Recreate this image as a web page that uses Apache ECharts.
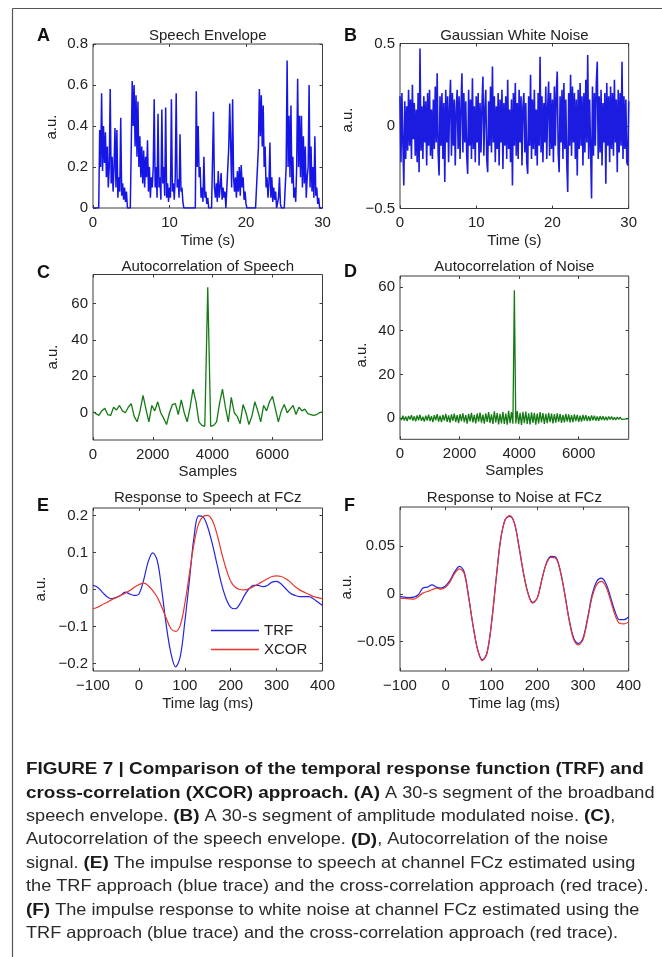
<!DOCTYPE html>
<html>
<head>
<meta charset="utf-8">
<script src="https://cdn.jsdelivr.net/npm/echarts@6.0.0/dist/echarts.min.js"></script>
<style>
  html, body { margin: 0; padding: 0; background: #fff; }
  #chart { width: 662px; height: 957px; }
</style>
</head>
<body>
<div id="chart"></div>
<script>
// ---- data ----

// A: speech envelope, one value every 0.125 s over 0..30 s
const aEnvelope = [
  0, 0, 0, 0, 0, 0, 0,
  0.38, 0.2, 0.56, 0.18, 0.4, 0.22, 0.37, 0.15, 0.3, 0.1, 0.2, 0.58, 0.12, 0.25, 0.08, 0.2, 0.39, 0.1, 0.38,
  0.05, 0.15, 0.08, 0.44, 0.06, 0.12, 0.04, 0.1, 0.03, 0.08,
  0, 0, 0, 0,
  0.3, 0.62, 0.4, 0.6, 0.3, 0.55, 0.25, 0.52, 0.2, 0.35, 0.15, 0.3, 0.12, 0.28, 0.1, 0.25, 0.15, 0.33, 0.08, 0.2,
  0.05, 0.15, 0.1, 0.2, 0.53, 0.1, 0.2, 0.05, 0.46, 0.1, 0.15, 0.04, 0.48, 0.12, 0.2, 0.06, 0.49, 0.05, 0.12, 0.03,
  0.1, 0.05, 0.53, 0.08, 0.12, 0.04, 0.15, 0.56, 0.1, 0.14, 0.05, 0.36, 0.08, 0.1, 0.03,
  0, 0, 0, 0, 0, 0, 0, 0, 0, 0, 0, 0, 0,
  0.57, 0.2, 0.4, 0.15, 0.2, 0.05, 0.1, 0.03, 0.25, 0.05, 0.08, 0.02, 0.05,
  0, 0, 0, 0, 0,
  0.47, 0.1, 0.05, 0.12, 0.03, 0.18, 0.05, 0.1, 0.17, 0.04, 0.1, 0.05, 0.08,
  0, 0, 0,
  0.3, 0.51, 0.3, 0.1, 0.53, 0.15, 0.08, 0.15, 0.05, 0.18, 0.08, 0.2, 0.06, 0.21, 0.1, 0.15, 0.04, 0.08, 0.02,
  0, 0, 0, 0, 0, 0, 0, 0, 0, 0, 0, 0,
  0.3, 0.58, 0.35, 0.55, 0.3, 0.5, 0.2, 0.3, 0.1, 0.15, 0.05, 0.12, 0.32, 0.05, 0.15, 0.03, 0.1, 0.04, 0.08,
  0, 0, 0.05, 0.15, 0.02,
  0, 0, 0, 0, 0,
  0.2, 0.72, 0.2, 0.45, 0.15, 0.5, 0.12, 0.25, 0.05, 0.1, 0.03, 0.2, 0.63, 0.2, 0.45, 0.15, 0.45, 0.1, 0.35, 0.12,
  0.3, 0.05, 0.15, 0.2, 0.6, 0.1, 0.3, 0.08, 0.2, 0.05, 0.35, 0.06, 0.1, 0.02, 0.05,
  0, 0, 0, 0
];

// B: gaussian white noise, one value every 0.125 s over 0..30 s
const bNoise = [
  0.18, -0.22, 0.2, -0.1, -0.36, 0.15, -0.2, 0.12, -0.15, 0.22,
  -0.12, 0.16, -0.2, 0.25, -0.08, 0.14, -0.18, 0.1, -0.22, 0.2,
  -0.28, 0.47, -0.15, 0.12, -0.2, 0.18, -0.1, 0.15, -0.24, 0.2,
  -0.12, 0.22, -0.18, 0.1, -0.2, 0.16, -0.14, 0.24, -0.1, 0.32,
  -0.16, -0.3, 0.18, -0.12, 0.2, -0.2, 0.14, -0.34, 0.22, -0.1,
  0.18, -0.22, 0.12, 0.28, -0.18, 0.2, -0.12, 0.16, -0.24, 0.1,
  0.22, -0.14, 0.18, -0.2, 0.12, 0.32, -0.16, 0.2, -0.1, 0.15,
  -0.18, -0.29, 0.22, -0.12, 0.16, -0.2, 0.29, -0.14, 0.12, -0.22,
  0.18, -0.1, 0.2, -0.24, 0.14, -0.16, 0.12, 0.3, -0.18, 0.1,
  0.22, -0.2, -0.28, 0.15, -0.12, 0.24, -0.16, 0.36, -0.1, 0.18,
  -0.22, 0.12, -0.14, 0.2, -0.24, 0.16, -0.1, 0.22, -0.26, 0.14,
  -0.12, 0.18, -0.2, 0.28, -0.14, 0.1, -0.22, 0.16, -0.36, 0.2,
  -0.12, 0.26, -0.18, 0.14, -0.2, 0.22, -0.1, 0.18, -0.24, 0.12,
  0.2, -0.16, 0.14, -0.22, -0.29, 0.18, -0.12, 0.31, -0.2, 0.16,
  -0.14, 0.22, -0.18, 0.1, -0.24, 0.2, -0.12, 0.42, -0.16, 0.18,
  -0.22, 0.14, -0.1, 0.24, -0.2, 0.12, 0.27, -0.18, 0.2, -0.14,
  0.16, -0.22, 0.24, -0.12, 0.2, 0.33, -0.16, -0.28, 0.18, -0.1,
  0.22, -0.2, 0.26, -0.14, 0.16, -0.22, -0.4, 0.2, -0.12, 0.31,
  -0.18, 0.24, -0.1, 0.2, -0.2, 0.16, -0.3, 0.22, -0.14, 0.26,
  -0.12, 0.18, -0.24, 0.2, -0.16, 0.28, -0.1, 0.43, -0.2, 0.16,
  -0.14, -0.44, 0.24, -0.18, 0.2, -0.12, 0.26, 0.39, -0.2, 0.18,
  -0.16, 0.22, -0.24, 0.14, -0.1, 0.2, -0.35, 0.26, -0.12, 0.18,
  -0.22, 0.24, -0.14, 0.2, -0.18, 0.28, -0.1, 0.16, -0.28, 0.22,
  -0.16, 0.2, -0.12, 0.39, -0.2, 0.18, -0.14, 0.16, -0.22, -0.24,
  0.15
];

// C: autocorrelation of speech, evenly spread over 0..7680 samples
const cAutocorr = [
  0.5, -0.5, -1.5, 1, 2.5, -1, -1.5, 3, 1.5, 4,
  1, 0, 3, 5, -2, -5, 1, 9.5, 2, -5,
  4, 1, 6, 0, -3, -6.5, 0, 4.5, 5, -1,
  7, 0, -5, 3, 13, 6, -5, -7, -7.5, 69,
  -7.5, -7, -5, 5, 13, 3, -5, 8.5, 0, -2,
  -6, 4.5, 0, -6.5, -2, 6, 1, -5, 4, 1,
  6, 9, 2, -5, 1, 4.5, 0, 2, 4, -1,
  3, 1, 2, -0.5, -1, -1.5, -1, 0, 0.5
];

// D: autocorrelation of noise, evenly spread over 0..7680 samples
const dAutocorr = [
  0.3, -0.8, 1.2, -1.0, 0.8, -1.3, 1.1, -0.6, 1.4, -1.1,
  0.9, -1.4, 1.3, -0.9, 1.6, -1.2, 0.7, -1.5, 1.2, -1.0,
  1.7, -1.3, 1.0, -1.8, 1.4, -0.9, 1.9, -1.5, 1.2, -1.7,
  1.5, -1.1, 2.0, -1.6, 1.3, -2.0, 1.8, -1.2, 2.1, -1.7,
  1.4, -2.2, 1.9, -1.3, 2.3, -1.8, 1.5, -2.4, 2.0, -1.4,
  2.5, -1.9, 1.6, -2.3, 2.2, -1.5, 2.6, -2.0, 1.7, -2.5,
  2.3, -1.6, 2.8, -2.1, 1.8, -2.6, 3.2, -1.9, 2.4, -2.8,
  2.0, -2.3, 3.0, -2.6, 2.2, -2.9, 3.4, -2.2, 2.8, -2.5,
  58.5,
  -2.4, 3.3, -2.7, 2.5, -3.0, 2.9, -2.2, 3.1, -2.6, 2.3,
  -2.8, 2.7, -2.1, 2.5, -2.9, 2.2, -2.4, 2.8, -1.9, 2.4,
  -2.6, 2.0, -2.2, 2.5, -1.8, 2.1, -2.3, 1.9, -2.0, 2.2,
  -1.7, 2.0, -2.1, 1.6, -1.9, 2.0, -1.5, 1.8, -1.9, 1.4,
  -1.7, 1.8, -1.3, 1.6, -1.6, 1.2, -1.5, 1.5, -1.1, 1.4,
  -1.3, 1.0, -1.3, 1.3, -0.9, 1.2, -1.1, 0.8, -1.1, 1.0,
  -0.8, 0.9, -0.9, 0.7, -0.9, 0.8, -0.6, 0.8, -0.7, 0.5,
  -0.7, 0.6, -0.5, 0.6, -0.5, 0.4, -0.4, 0.4, -0.3, 0.2
];

// E / F: responses at FCz, time lag -100..400 ms every 10 ms
const lagMs = [
  -100, -90, -80, -70, -60, -50, -40, -30, -20, -10,
  0, 10, 20, 30, 40, 50, 60, 70, 80, 90,
  100, 110, 120, 130, 140, 150, 160, 170, 180, 190,
  200, 210, 220, 230, 240, 250, 260, 270, 280, 290,
  300, 310, 320, 330, 340, 350, 360, 370, 380, 390, 400
];
const eTRF = [
  0.011, 0.006, -0.007, -0.019, -0.025, -0.022, -0.016, -0.007, -0.012, -0.016,
  -0.012, 0.024, 0.074, 0.099, 0.078, -0.003, -0.1, -0.173, -0.209, -0.182,
  -0.088, 0.024, 0.141, 0.199, 0.196, 0.168, 0.123, 0.069, 0.015, -0.025,
  -0.048, -0.052, -0.039, -0.016, 0.002, 0.011, 0.011, 0.008, 0.011, 0.02,
  0.022, 0.015, 0.002, -0.01, -0.016, -0.019, -0.019, -0.019, -0.025, -0.034,
  -0.043
];
const eXCOR = [
  -0.052, -0.048, -0.041, -0.035, -0.028, -0.022, -0.016, -0.01, -0.003, 0.006,
  0.013, 0.017, 0.011, -0.003, -0.021, -0.048, -0.079, -0.106, -0.113, -0.097,
  -0.039, 0.042, 0.123, 0.177, 0.197, 0.2, 0.186, 0.15, 0.1, 0.056,
  0.022, 0.006, 0, -0.001, 0.002, 0.008, 0.015, 0.022, 0.029, 0.035,
  0.037, 0.035, 0.029, 0.02, 0.008, -0.001, -0.007, -0.013, -0.019, -0.022,
  -0.025
];
const fTRF = [
  -0.003, -0.0035, -0.004, -0.0035, -0.001, 0.006, 0.007, 0.0094, 0.007, 0.006,
  0.0084, 0.0146, 0.0233, 0.0286, 0.0233, -0.003, -0.034, -0.0585, -0.069, -0.062,
  -0.0307, 0.0146, 0.0564, 0.0774, 0.0808, 0.0739, 0.0495, 0.0216, 0.0007, -0.009,
  -0.0045, 0.0146, 0.032, 0.039, 0.0383, 0.025, 0.0007, -0.027, -0.0463, -0.0516,
  -0.0463, -0.0254, -0.001, 0.0129, 0.0164, 0.0111, -0.003, -0.0185, -0.027, -0.027,
  -0.0237
];
const fXCOR = [
  -0.0045, -0.0049, -0.0052, -0.0056, -0.003, 0.0007, 0.0024, 0.0042, 0.0059, 0.0049,
  0.007, 0.0129, 0.0216, 0.026, 0.0216, -0.0035, -0.034, -0.059, -0.0697, -0.062,
  -0.0307, 0.0146, 0.0564, 0.0774, 0.0815, 0.0739, 0.0495, 0.0216, 0, -0.0098,
  -0.0045, 0.0146, 0.0314, 0.038, 0.0373, 0.0244, 0, -0.0282, -0.048, -0.0533,
  -0.048, -0.0272, -0.0035, 0.0094, 0.0129, 0.0077, -0.0063, -0.022, -0.0307, -0.0314,
  -0.029
];

// tick labels
const timeTicks = [0, 10, 20, 30];
const envTicks = [0, 0.2, 0.4, 0.6, 0.8];
const noiseTicks = [-0.5, 0, 0.5];
const sampleTicks = [0, 2000, 4000, 6000];
const corrTicks = [0, 20, 40, 60];
const lagTicks = [-100, 0, 100, 200, 300, 400];
const eTicks = [-0.2, -0.1, 0, 0.1, 0.2];
const fTicks = [-0.05, 0, 0.05];

const seriesNames = ['TRF', 'XCOR'];

// ---- layout ----
const font = '"Liberation Sans", Arial, Helvetica, sans-serif';
const ink = '#222';
const boxColor = '#3c3c3c';

const panels = [
  { letter: 'A', title: 'Speech Envelope', xName: 'Time (s)', box: [93, 44, 229.5, 164],
    x: [0, 30], y: [0, 0.8], xt: timeTicks, yt: envTicks, titleY: 36, xNameY: 241, ylX: 52, ylY: 127 },
  { letter: 'B', title: 'Gaussian White Noise', xName: 'Time (s)', box: [400, 43.5, 228.7, 165],
    x: [0, 30], y: [-0.5, 0.5], xt: timeTicks, yt: noiseTicks, titleY: 36, xNameY: 241, ylX: 348, ylY: 120 },
  { letter: 'C', title: 'Autocorrelation of Speech', xName: 'Samples', box: [93, 274.5, 229.5, 165.5],
    x: [0, 7680], y: [-15, 76], xt: sampleTicks, yt: corrTicks, titleY: 266.5, xNameY: 472, ylX: 53, ylY: 357 },
  { letter: 'D', title: 'Autocorrelation of Noise', xName: 'Samples', box: [400, 276, 228.7, 163.3],
    x: [0, 7680], y: [-9.6, 65], xt: sampleTicks, yt: corrTicks, titleY: 266.5, xNameY: 471, ylX: 362, ylY: 355 },
  { letter: 'E', title: 'Response to Speech at FCz', xName: 'Time lag (ms)', box: [93, 508, 229.5, 163],
    x: [-100, 400], y: [-0.22, 0.22], xt: lagTicks, yt: eTicks, titleY: 498, xNameY: 704, ylX: 41, ylY: 589 },
  { letter: 'F', title: 'Response to Noise at FCz', xName: 'Time lag (ms)', box: [400, 507, 228.7, 164],
    x: [-100, 400], y: [-0.0805, 0.0905], xt: lagTicks, yt: fTicks, titleY: 498, xNameY: 704, ylX: 347, ylY: 587 }
];
const letterPos = [[37, 36], [344, 36], [37, 273.5], [344, 272], [37, 506.5], [344, 506.5]];

const fmt = v => String(v).replace('-', '\u2212');

const grids = [];
const xAxes = [];
const yAxes = [];
const graphics = [];

panels.forEach((p, i) => {
  const [left, top, width, height] = p.box;
  grids.push({ left, top, width, height, show: true, borderColor: boxColor, borderWidth: 1, backgroundColor: 'transparent' });

  const tick = vals => ({ inside: true, length: 3, customValues: vals, lineStyle: { color: boxColor, width: 1 } });
  const label = vals => ({ customValues: vals, fontSize: 15, color: ink, fontFamily: font, formatter: fmt });

  ['bottom', 'top'].forEach(pos => {
    xAxes.push({
      gridIndex: i, type: 'value', position: pos, min: p.x[0], max: p.x[1],
      axisLine: { show: false, onZero: false }, splitLine: { show: false },
      axisTick: tick(p.xt),
      axisLabel: pos === 'bottom' ? Object.assign(label(p.xt), { margin: 7 }) : { show: false }
    });
  });
  ['left', 'right'].forEach(pos => {
    yAxes.push({
      gridIndex: i, type: 'value', position: pos, min: p.y[0], max: p.y[1],
      axisLine: { show: false, onZero: false }, splitLine: { show: false },
      axisTick: tick(p.yt),
      axisLabel: pos === 'left' ? Object.assign(label(p.yt), { margin: 5 }) : { show: false }
    });
  });

  const cx = left + width / 2;
  graphics.push({ type: 'text', x: cx, y: p.titleY, silent: true,
    style: { text: p.title, fontSize: 15, fontFamily: font, fill: ink, align: 'center', verticalAlign: 'middle' } });
  graphics.push({ type: 'text', x: cx, y: p.xNameY, silent: true,
    style: { text: p.xName, fontSize: 15, fontFamily: font, fill: ink, align: 'center', verticalAlign: 'middle' } });
  graphics.push({ type: 'text', x: p.ylX, y: p.ylY, rotation: Math.PI / 2, silent: true,
    style: { text: 'a.u.', fontSize: 15, fontFamily: font, fill: ink, align: 'center', verticalAlign: 'middle' } });
  graphics.push({ type: 'text', x: letterPos[i][0], y: letterPos[i][1], silent: true,
    style: { text: p.letter, fontSize: 18, fontWeight: 'bold', fontFamily: font, fill: '#111', align: 'left', verticalAlign: 'middle' } });
});

// outer frame of the figure
graphics.push({ type: 'line', silent: true, shape: { x1: 12.5, y1: 8.5, x2: 662, y2: 8.5 }, style: { stroke: '#555', lineWidth: 1.2 } });
graphics.push({ type: 'line', silent: true, shape: { x1: 12.5, y1: 8.5, x2: 12.5, y2: 957 }, style: { stroke: '#555', lineWidth: 1.2 } });

// caption
const caption = [
  '{b|FIGURE 7 | Comparison of the temporal response function (TRF) and}',
  '{b|cross-correlation (XCOR) approach. (A)}{n| A 30-s segment of the broadband}',
  '{n|speech envelope. }{b|(B)}{n| A 30-s segment of amplitude modulated noise. }{b|(C)}{n|,}',
  '{n|Autocorrelation of the speech envelope. }{b|(D)}{n|, Autocorrelation of the noise}',
  '{n|signal. }{b|(E)}{n| The impulse response to speech at channel FCz estimated using}',
  '{n|the TRF approach (blue trace) and the cross-correlation approach (red trace).}',
  '{b|(F)}{n| The impulse response to white noise at channel FCz estimated using the}',
  '{n|TRF approach (blue trace) and the cross-correlation approach (red trace).}'
].join('\n');
graphics.push({
  type: 'text', x: 26, y: 758, scaleX: 1.1, silent: true,
  style: {
    text: caption,
    rich: {
      b: { fontSize: 17.2, fontWeight: 'bold', fontFamily: font, fill: '#1a1a1a', lineHeight: 23.4 },
      n: { fontSize: 16.5, fontFamily: font, fill: '#2a2a2a', lineHeight: 23.4 }
    }
  }
});

const pairs = (xs, ys) => ys.map((v, k) => [xs[k], v]);
const evenly = (vals, span) => vals.map((v, k) => [k * span / (vals.length - 1), v]);

const line = (idx, data, color, width, extra) => Object.assign({
  type: 'line', xAxisIndex: 2 * idx, yAxisIndex: 2 * idx, data,
  showSymbol: false, symbol: 'none', animation: false, silent: true,
  lineStyle: { color, width }, itemStyle: { color }
}, extra || {});

const blue = '#2424e0';
const red = '#e8352f';
const green = '#147a14';

const series = [
  line(0, evenly(aEnvelope, 30), '#1515e6', 1.5),
  line(1, evenly(bNoise, 30), '#1c1ce0', 1.6),
  line(2, evenly(cAutocorr, 7680), green, 1.3),
  line(3, evenly(dAutocorr, 7680), green, 1.3),
  line(4, pairs(lagMs, eTRF), blue, 1.2, { name: seriesNames[0], smooth: 0.35 }),
  line(4, pairs(lagMs, eXCOR), red, 1.2, { name: seriesNames[1], smooth: 0.35 }),
  line(5, pairs(lagMs, fTRF), blue, 1.2, { name: 'F ' + seriesNames[0], smooth: 0.35 }),
  line(5, pairs(lagMs, fXCOR), red, 1.2, { name: 'F ' + seriesNames[1], smooth: 0.35 })
];

const chart = echarts.init(document.getElementById('chart'), null, { renderer: 'canvas' });
chart.setOption({
  animation: false,
  backgroundColor: '#fff',
  grid: grids,
  xAxis: xAxes,
  yAxis: yAxes,
  legend: {
    data: seriesNames, orient: 'vertical', left: 206, top: 618,
    icon: 'rect', itemWidth: 48, itemHeight: 1.5, itemGap: 4, selectedMode: false,
    textStyle: { fontSize: 15, color: ink, fontFamily: font }
  },
  series,
  graphic: graphics
});
</script>
</body>
</html>
